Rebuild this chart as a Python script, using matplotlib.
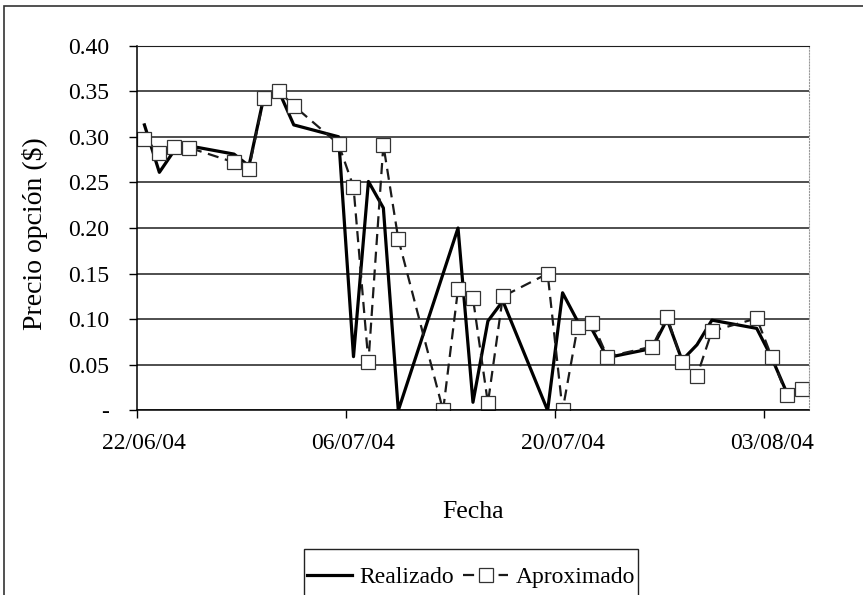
import numpy as np
import pandas as pd
import matplotlib
matplotlib.use('Agg')
import matplotlib.pyplot as plt
from matplotlib.patches import Rectangle

# Días hábiles de la serie
fechas = ['22/06/04', '23/06/04', '24/06/04', '25/06/04', '28/06/04', '29/06/04',
          '30/06/04', '01/07/04', '02/07/04', '05/07/04', '06/07/04', '07/07/04',
          '08/07/04', '09/07/04', '12/07/04', '13/07/04', '14/07/04', '15/07/04',
          '16/07/04', '19/07/04', '20/07/04', '21/07/04', '22/07/04', '23/07/04',
          '26/07/04', '27/07/04', '28/07/04', '29/07/04', '30/07/04', '02/08/04',
          '03/08/04', '04/08/04', '05/08/04']

realizado = [0.313, 0.261, 0.285, 0.290, 0.281, 0.268, 0.344, 0.350, 0.313, 0.300,
             0.059, 0.251, 0.222, 0.000, 0.150, 0.200, 0.009, 0.098, 0.120, 0.000,
             0.129, 0.098, 0.088, 0.058, 0.068, 0.100, 0.055, 0.072, 0.099, 0.090,
             0.058, 0.020, 0.025]

aproximado = [0.297, 0.282, 0.289, 0.288, 0.272, 0.265, 0.343, 0.350, 0.334, 0.292,
              0.245, 0.053, 0.291, 0.188, 0.000, 0.133, 0.123, 0.008, 0.125, 0.150,
              0.000, 0.091, 0.096, 0.059, 0.070, 0.103, 0.053, 0.038, 0.087, 0.101,
              0.059, 0.017, 0.024]

ticks_y = np.arange(0, 0.401, 0.05)
etiquetas_y = ['-' if v < 1e-9 else f'{v:.2f}' for v in ticks_y]

plt.rcParams['font.family'] = ['Liberation Serif', 'DejaVu Serif']

dias = pd.to_datetime(fechas, format='%d/%m/%y')
x = (dias + pd.Timedelta(hours=12)).to_numpy()  # punto en el centro del día, como en Excel

fig = plt.figure(figsize=(8.63, 5.95), dpi=100)
ax = fig.add_axes([0.1587, 0.3101, 0.7787, 0.6134])

ax.plot(x, realizado, color='black', lw=2.3, label='Realizado')
ax.plot(x, aproximado, color='#1a1a1a', lw=1.6, dashes=(5, 3), marker='s',
        ms=9.5, mfc='white', mec='#333333', mew=0.9, label='Aproximado')

ax.set_xlim(dias[0], dias[0] + pd.Timedelta(days=45))
ax.set_ylim(0, 0.40)

ax.set_yticks(ticks_y, etiquetas_y)
ax.yaxis.grid(True, color='#1e1e1e', lw=1.1)
ax.set_axisbelow(True)
ax.tick_params(axis='y', length=6, width=1, pad=14, labelsize=17)

# marcas en el borde del día, etiquetas centradas en el día
ax.set_xticks(dias[::10].to_numpy(), [''] * 4)
ax.set_xticks(x[::10], fechas[::10], minor=True)
ax.tick_params(axis='x', which='major', length=6, width=1)
ax.tick_params(axis='x', which='minor', length=0, pad=16, labelsize=17)

for s in ['left', 'bottom']:
    ax.spines[s].set_linewidth(1.1)
ax.spines['top'].set_color('#1e1e1e')
ax.spines['right'].set_color('#999999')
ax.spines['right'].set_linestyle(':')
ax.spines['right'].set_linewidth(0.8)

ax.set_ylabel('Precio opción ($)', fontsize=20, va='center')
ax.yaxis.set_label_coords(-0.152, 0.484)
ax.set_xlabel('Fecha', fontsize=18.5, va='center')
ax.xaxis.set_label_coords(0.5, -0.278)

fig.legend(loc='center', bbox_to_anchor=(471 / 863, 1 - 577 / 595), ncol=2,
           frameon=False, fontsize=17, handlelength=1.9, handletextpad=0.3,
           columnspacing=0.4, numpoints=1)
fig.add_artist(Rectangle((304 / 863, -0.05), 334 / 863, 0.05 + 1 - 549 / 595,
                         transform=fig.transFigure, fill=False, ec='#222222', lw=1.0))

# marco exterior del gráfico
fig.add_artist(Rectangle((4 / 863, -0.05), 1.1, 0.05 + 1 - 6 / 595,
                         transform=fig.transFigure, fill=False, ec='#333333', lw=1.2))

fig.savefig('out.png', dpi=100, facecolor='white')
